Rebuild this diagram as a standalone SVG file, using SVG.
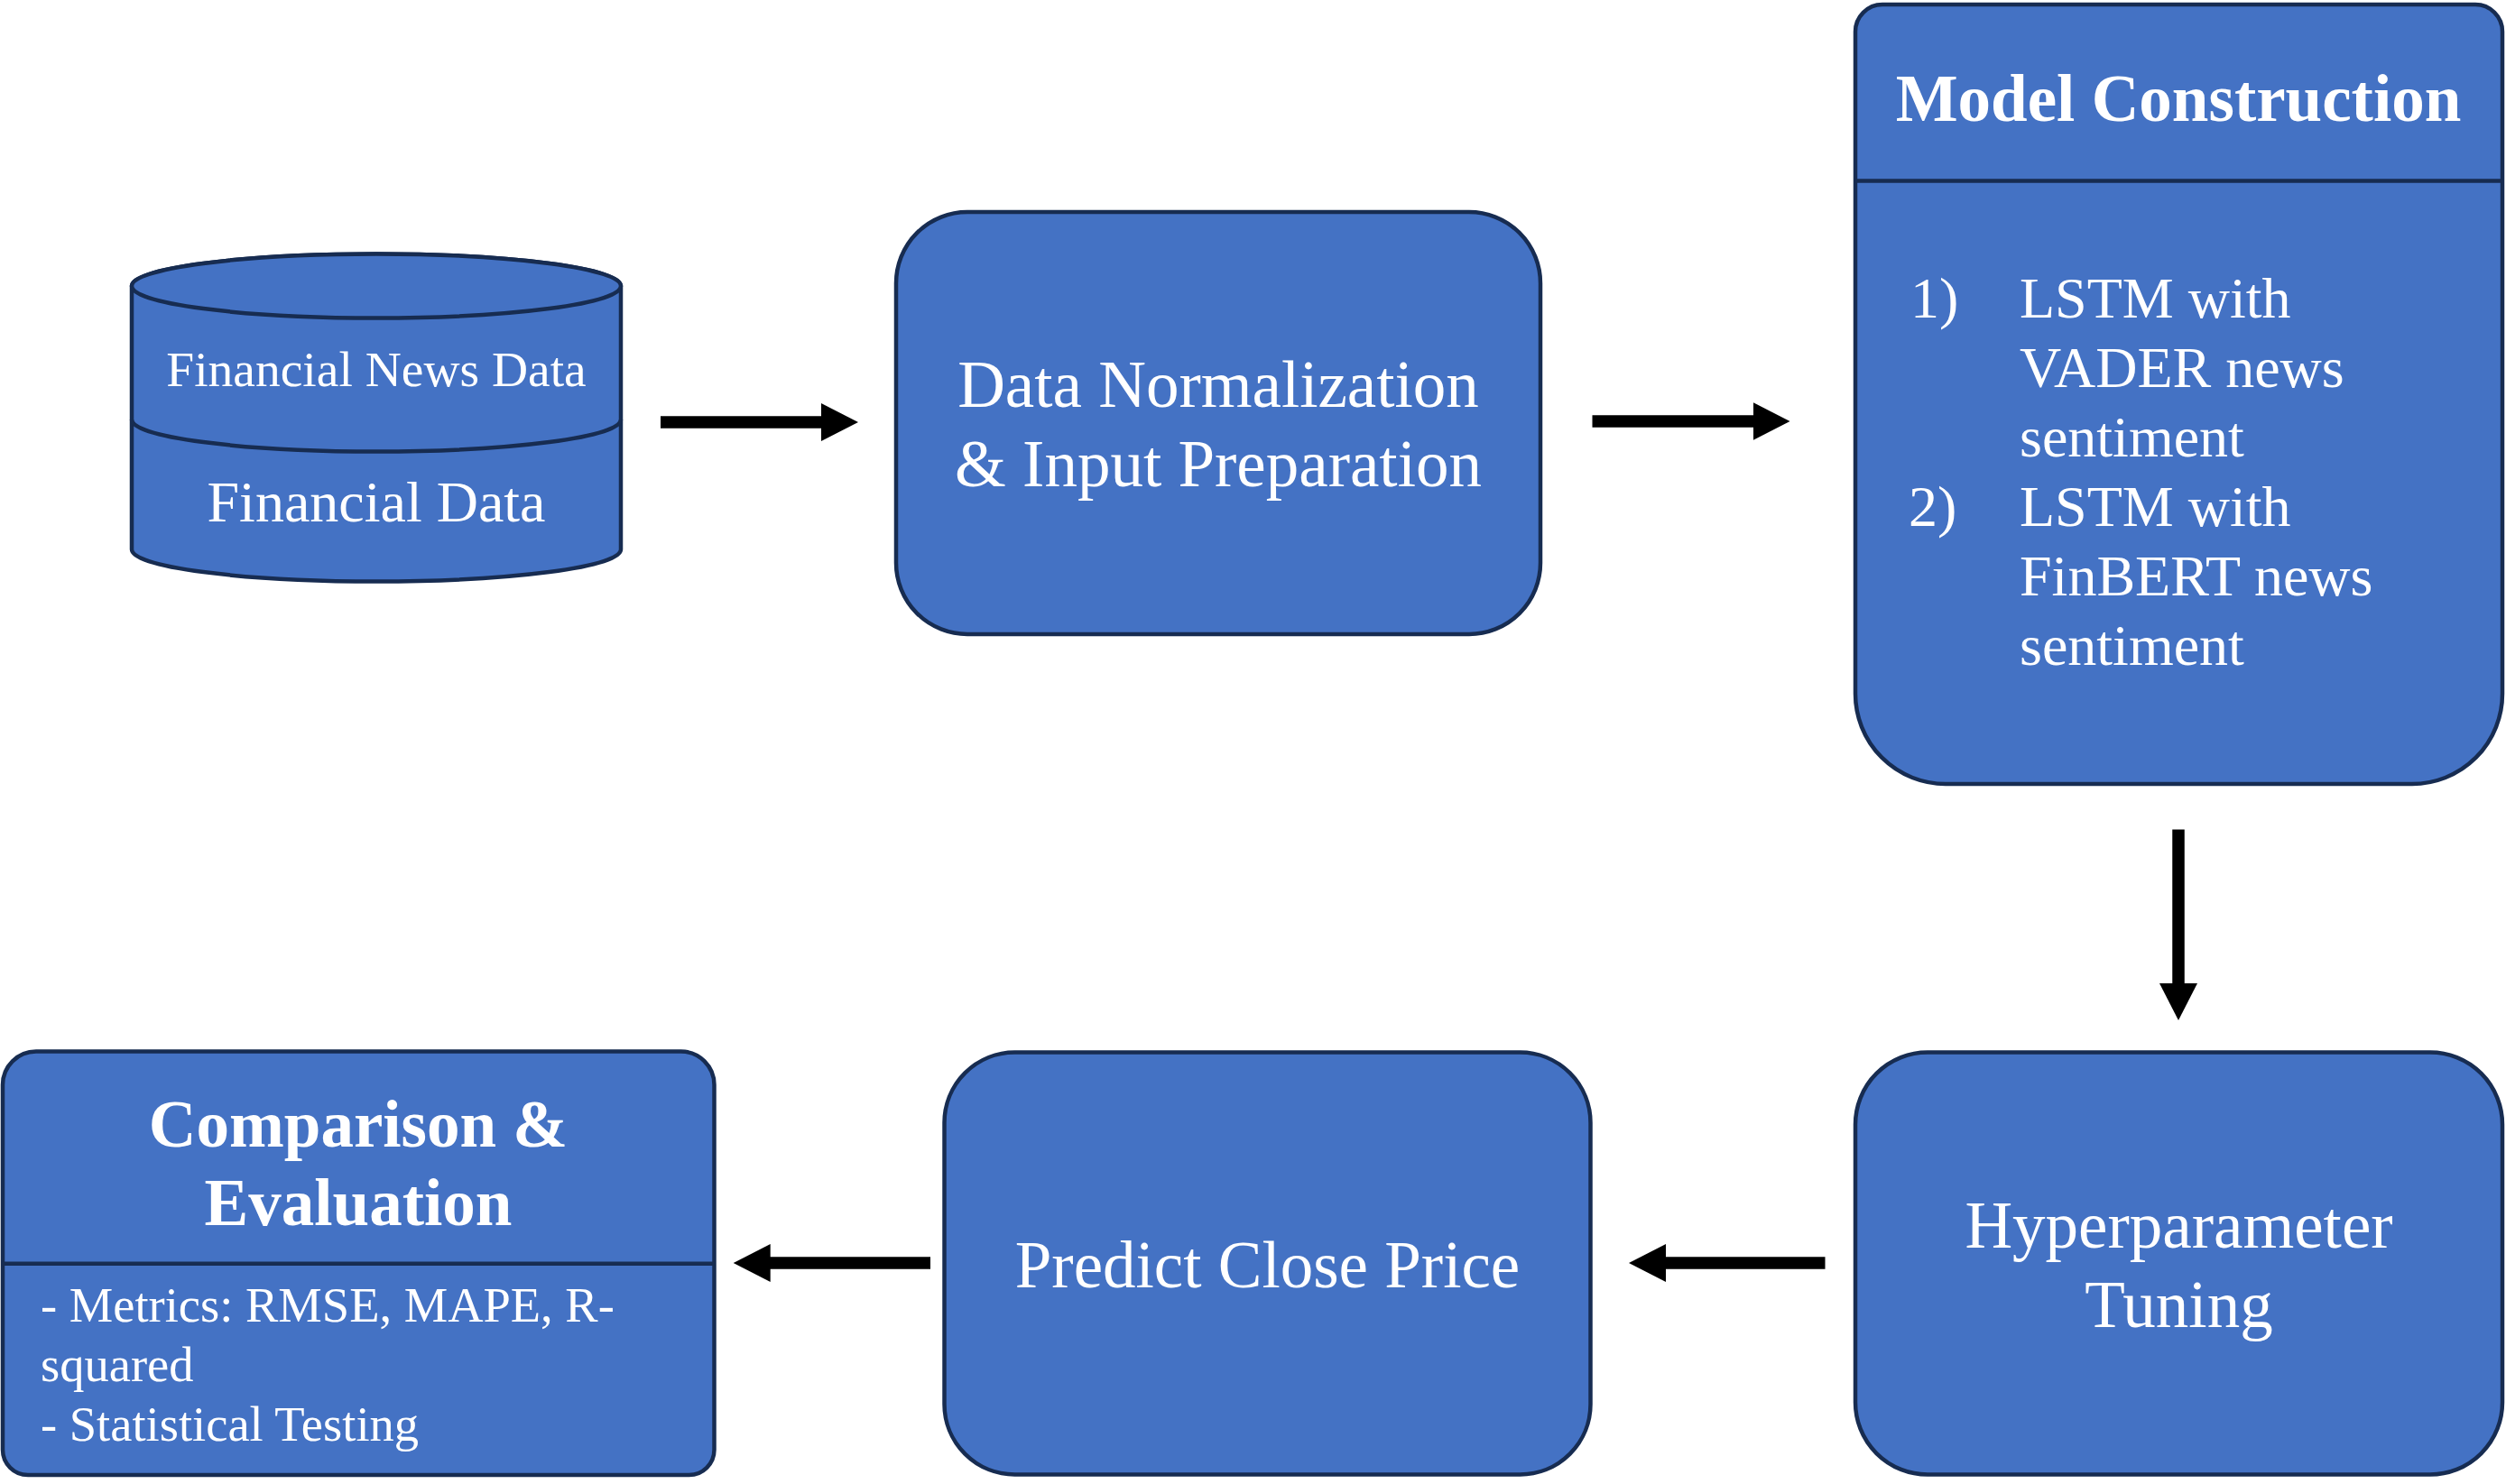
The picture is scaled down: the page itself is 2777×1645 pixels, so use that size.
<svg xmlns="http://www.w3.org/2000/svg" width="2777" height="1645" viewBox="0 0 2777 1645">
<style>
.shape{fill:#4472C4;stroke:#172C51;stroke-width:4.5;stroke-linejoin:round}
.div{fill:none;stroke:#172C51;stroke-width:4.5}
.t{fill:#FFFFFF;font-family:"Liberation Serif","Times New Roman",serif}
.c{text-anchor:middle}
.b{font-weight:bold}
.conn{stroke:#000;stroke-width:13.5;fill:none}
</style>
<defs>
<marker id="ah" markerUnits="userSpaceOnUse" markerWidth="42" markerHeight="42" refX="1" refY="21" orient="auto" viewBox="0 0 42 42">
<path d="M0,0 L41,21 L0,42 Z" fill="#000"/>
</marker>
</defs>
<rect width="2777" height="1645" fill="#FFFFFF"/>

<g id="node-data-source">
<path class="shape" d="M146,317 L146,609 A271,35.5 0 0 0 688,609 L688,317 A271,35.5 0 0 0 146,317 Z"/>
<ellipse class="shape" cx="417" cy="317" rx="271" ry="35.5"/>
<path class="div" d="M146,465 A271,35.5 0 0 0 688,465"/>
<text class="t c" x="417" y="428" font-size="55.5">Financial News Data</text>
<text class="t c" x="417" y="578" font-size="64">Financial Data</text>
</g>

<g id="node-normalization">
<rect class="shape" x="993" y="235" width="714" height="468" rx="79" ry="79"/>
<text class="t c" x="1350" y="451" font-size="73">Data Normalization</text>
<text class="t c" x="1350" y="539" font-size="73">&amp; Input Preparation</text>
</g>

<g id="node-model-construction">
<path class="shape" d="M2086,5 L2743,5 A30,30 0 0 1 2773,35 L2773,769 A100,100 0 0 1 2673,869 L2156,869 A100,100 0 0 1 2056,769 L2056,35 A30,30 0 0 1 2086,5 Z"/>
<line class="div" x1="2056" y1="200.5" x2="2773" y2="200.5"/>
<text class="t c b" x="2414" y="134" font-size="73">Model Construction</text>
<g class="t" font-size="64">
<text x="2117" y="352">1)</text>
<text x="2238" y="352">LSTM with</text>
<text x="2238" y="429">VADER news</text>
<text x="2238" y="506">sentiment</text>
<text x="2115" y="583">2)</text>
<text x="2238" y="583">LSTM with</text>
<text x="2238" y="660">FinBERT news</text>
<text x="2238" y="737">sentiment</text>
</g>
</g>

<g id="node-hyperparameter">
<rect class="shape" x="2056" y="1166.5" width="717" height="468" rx="80" ry="80"/>
<text class="t c" x="2414.5" y="1382.5" font-size="73">Hyperparameter</text>
<text class="t c" x="2414.5" y="1471" font-size="73">Tuning</text>
</g>

<g id="node-predict">
<rect class="shape" x="1046.5" y="1166.5" width="716" height="468" rx="78" ry="78"/>
<text class="t c" x="1404.5" y="1426.7" font-size="73">Predict Close Price</text>
</g>

<g id="node-evaluation">
<path class="shape" d="M40,1165.5 L754.5,1165.5 A37,37 0 0 1 791.5,1202.5 L791.5,1607 A28,28 0 0 1 763.5,1635 L31,1635 A28,28 0 0 1 3,1607 L3,1202.5 A37,37 0 0 1 40,1165.5 Z"/>
<line class="div" x1="3" y1="1400.7" x2="791.5" y2="1400.7"/>
<text class="t c b" x="397" y="1270.7" font-size="73">Comparison &amp;</text>
<text class="t c b" x="397" y="1358.3" font-size="73">Evaluation</text>
<g class="t" font-size="54.5">
<text x="45" y="1465">- Metrics: RMSE, MAPE, R-</text>
<text x="45" y="1530.7">squared</text>
<text x="45" y="1596.5">- Statistical Testing</text>
</g>
</g>

<g id="connectors">
<line class="conn" x1="732" y1="468" x2="911" y2="468" marker-end="url(#ah)"/>
<line class="conn" x1="1764.5" y1="467" x2="1943.5" y2="467" marker-end="url(#ah)"/>
<line class="conn" x1="2414" y1="919.5" x2="2414" y2="1091" marker-end="url(#ah)"/>
<line class="conn" x1="2022.5" y1="1400" x2="1845" y2="1400" marker-end="url(#ah)"/>
<line class="conn" x1="1031" y1="1400" x2="852.7" y2="1400" marker-end="url(#ah)"/>
</g>
</svg>
